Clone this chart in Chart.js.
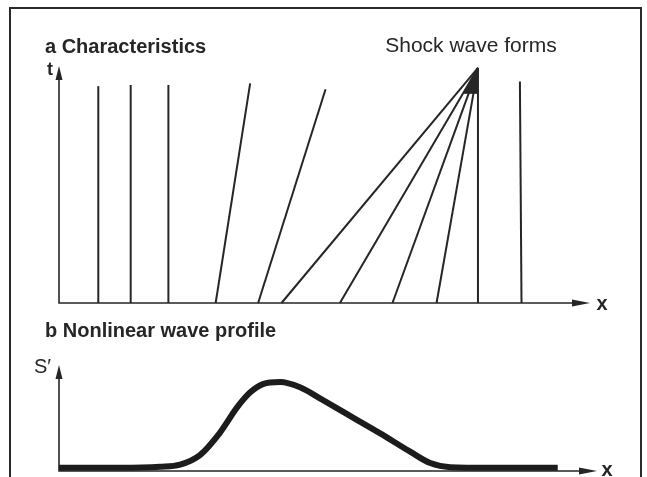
<!DOCTYPE html>
<html>
<head>
<meta charset="utf-8">
<script src="https://cdn.jsdelivr.net/npm/chart.js@4.4.0/dist/chart.umd.min.js"></script>
<style>
  body { margin: 0; background: #fff; }
  #wrap { position: relative; width: 647px; height: 477px; overflow: hidden; background: #fff; }
  #frame { position: absolute; left: 9px; top: 7px; width: 629px; height: 520px; border: 2px solid #2a2a2a; border-bottom: none; }
  canvas { position: absolute; left: 0; }
</style>
</head>
<body>
<div id="wrap">
  <div id="frame"></div>
  <canvas id="chartA" width="647" height="320" style="top:0"></canvas>
  <canvas id="chartB" width="647" height="157" style="top:320px"></canvas>
</div>
<script>
// panel a: characteristics (x at t=0, x and t where each line ends)
var footX = [0.74, 1.35, 2.06, 2.95, 3.75, 4.19, 5.29, 6.28, 7.11, 7.89, 8.71];
var headX = [0.74, 1.35, 2.06, 3.60, 5.02, 7.89, 7.89, 7.89, 7.89, 7.89, 8.68];
var headT = [0.915, 0.92, 0.92, 0.927, 0.902, 0.992, 0.992, 0.992, 0.992, 0.992, 0.935];
// dark wedge where the characteristics meet
var shockX = [7.89, 7.62, 7.89];
var shockT = [0.992, 0.885, 0.885];

// panel b: wave profile S'
var profileX = [0, 1.13, 1.88, 2.25, 2.62, 2.99, 3.31, 3.55, 3.79, 4.11, 4.48, 4.85, 5.41, 5.97, 6.52, 6.90, 7.27, 8.01, 9.27];
var profileS = [0.03, 0.03, 0.04, 0.06, 0.15, 0.36, 0.60, 0.74, 0.82, 0.84, 0.79, 0.686, 0.52, 0.355, 0.185, 0.075, 0.036, 0.03, 0.03];

var ink = '#262626';

var axisArrows = {
  id: 'axisArrows',
  beforeDatasetsDraw: function(chart) {
    var ctx = chart.ctx, a = chart.chartArea;
    ctx.save();
    ctx.strokeStyle = ink;
    ctx.fillStyle = ink;
    ctx.lineWidth = 1.6;
    ctx.beginPath();
    ctx.moveTo(a.left, a.top + 6);
    ctx.lineTo(a.left, a.bottom);
    ctx.lineTo(a.right - 6, a.bottom);
    ctx.stroke();
    ctx.beginPath();
    ctx.moveTo(a.left, a.top);
    ctx.lineTo(a.left - 3.5, a.top + 14);
    ctx.lineTo(a.left + 3.5, a.top + 14);
    ctx.closePath();
    ctx.fill();
    ctx.beginPath();
    ctx.moveTo(a.right, a.bottom);
    ctx.lineTo(a.right - 18, a.bottom - 3.5);
    ctx.lineTo(a.right - 18, a.bottom + 3.5);
    ctx.closePath();
    ctx.fill();
    ctx.restore();
  },
  afterDraw: function(chart, args, opts) {
    var ctx = chart.ctx;
    ctx.save();
    ctx.fillStyle = ink;
    (opts.texts || []).forEach(function(t) {
      ctx.font = t.font;
      ctx.textAlign = t.align || 'left';
      ctx.textBaseline = t.base || 'alphabetic';
      ctx.fillText(t.text, t.x, t.y);
    });
    ctx.restore();
  }
};

var baseScales = {
  x: { type: 'linear', display: false, min: 0, max: 10 },
  y: { type: 'linear', display: false, min: 0, max: 1 }
};

var linesA = footX.map(function(fx, i) {
  return {
    data: [{x: fx, y: 0}, {x: headX[i], y: headT[i]}],
    borderColor: ink,
    borderWidth: 2,
    pointRadius: 0,
    fill: false,
    clip: false
  };
});
linesA.push({
  data: shockX.map(function(v, i) { return {x: v, y: shockT[i]}; }),
  borderColor: ink,
  backgroundColor: ink,
  borderWidth: 1,
  pointRadius: 0,
  fill: 'shape',
  clip: false
});

new Chart(document.getElementById('chartA'), {
  type: 'scatter',
  data: { datasets: linesA },
  options: {
    responsive: false,
    animation: false,
    showLine: true,
    layout: { padding: { left: 59, right: 57, top: 66, bottom: 17 } },
    scales: baseScales,
    plugins: {
      legend: { display: false },
      tooltip: { enabled: false },
      axisArrows: {
        texts: [
          { text: 'a Characteristics', x: 45, y: 53, font: 'bold 20px "Liberation Sans", Arial, sans-serif' },
          { text: 'Shock wave forms', x: 471, y: 52, align: 'center', font: '21px "Liberation Sans", Arial, sans-serif' },
          { text: 't', x: 50, y: 75, align: 'center', font: 'bold 18px "Liberation Sans", Arial, sans-serif' },
          { text: 'x', x: 602, y: 304, align: 'center', base: 'middle', font: 'bold 20px "Liberation Sans", Arial, sans-serif' }
        ]
      }
    }
  },
  plugins: [axisArrows]
});

new Chart(document.getElementById('chartB'), {
  type: 'scatter',
  data: {
    datasets: [{
      data: profileX.map(function(v, i) { return {x: v, y: profileS[i]}; }),
      borderColor: '#1c1c1c',
      borderWidth: 6,
      borderCapStyle: 'butt',
      pointRadius: 0,
      cubicInterpolationMode: 'monotone',
      fill: false,
      clip: false
    }]
  },
  options: {
    responsive: false,
    animation: false,
    showLine: true,
    layout: { padding: { left: 59, right: 50, top: 45, bottom: 6 } },
    scales: baseScales,
    plugins: {
      legend: { display: false },
      tooltip: { enabled: false },
      axisArrows: {
        texts: [
          { text: 'b Nonlinear wave profile', x: 45, y: 17, font: 'bold 20px "Liberation Sans", Arial, sans-serif' },
          { text: 'S\u2032', x: 34, y: 53, font: '20px "Liberation Sans", Arial, sans-serif' },
          { text: 'x', x: 607, y: 150, align: 'center', base: 'middle', font: 'bold 20px "Liberation Sans", Arial, sans-serif' }
        ]
      }
    }
  },
  plugins: [axisArrows]
});
</script>
</body>
</html>
